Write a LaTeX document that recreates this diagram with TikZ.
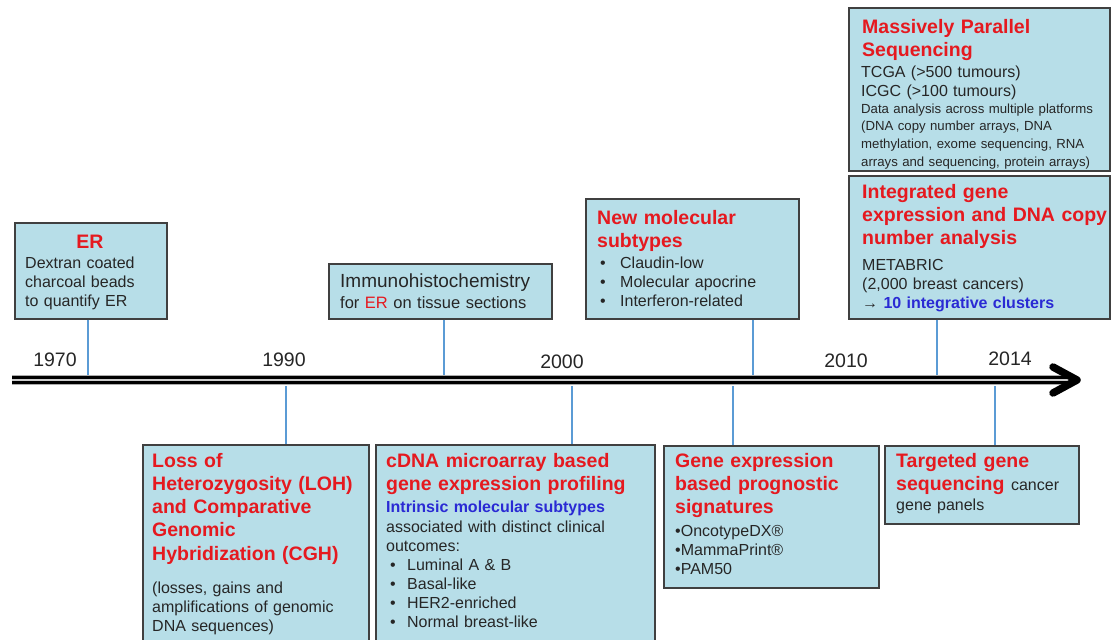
\documentclass[tikz,border=0pt]{standalone}
\usepackage{fontspec}
\setmainfont{Liberation Sans}
\definecolor{boxfill}{HTML}{B7DEE8}
\definecolor{boxline}{HTML}{404040}
\definecolor{tred}{HTML}{E5191F}
\definecolor{tblue}{HTML}{2A2AD4}
\definecolor{tdark}{HTML}{262626}
\definecolor{connblue}{HTML}{5B9BD5}
\newcommand{\ttlf}{\fontsize{19.5}{23.3}\selectfont\bfseries\color{tred}}
\newcommand{\bdyf}{\fontsize{16}{19.3}\selectfont\mdseries\color{tdark}}
\newcommand{\smlf}{\fontsize{13.2}{17.7}\selectfont\mdseries\color{tdark}}
\newcommand{\yrf}{\fontsize{19.5}{23}\selectfont\color{tdark}}
\newcommand{\bl}[1]{\makebox[#1][l]{•}}
\begin{document}
\begin{tikzpicture}[x=1pt,y=-1pt,
  box/.style={draw=boxline, fill=boxfill, line width=1.6pt, rectangle, inner sep=0pt, anchor=north west},
  conn/.style={draw=connblue, line width=1.4pt},
  txt/.style={anchor=base west, align=left, inner sep=0pt, text width=250pt},
  ttl/.style={txt, font=\ttlf},
  bdy/.style={txt, font=\bdyf},
  sml/.style={txt, font=\smlf},
  yr/.style={anchor=base, inner sep=0pt, font=\yrf}]
\fill[white] (0,0) rectangle (1114,640);
\clip (0,0) rectangle (1114,640);

% ---------- boxes ----------
\node[box, minimum width=152, minimum height=96] (er) at (14,222) {};
\node[box, minimum width=223, minimum height=55] (ihc) at (328,263) {};
\node[box, minimum width=213, minimum height=120] (nms) at (585,198) {};
\node[box, minimum width=261, minimum height=163] (mps) at (848,7) {};
\node[box, minimum width=261, minimum height=143] (igc) at (848,175) {};
\node[box, minimum width=226, minimum height=230] (loh) at (142,444) {};
\node[box, minimum width=279, minimum height=230] (cdna) at (375,444) {};
\node[box, minimum width=215, minimum height=142] (gep) at (663,445) {};
\node[box, minimum width=194, minimum height=78] (tgs) at (884,445) {};

% ---------- timeline ----------
\coordinate (axL) at (12,380);
\coordinate (axR) at (1070,380);
\coordinate (tip) at (1077,380);
\draw[line width=10pt, gray!65] (axL) -- (axR);
\draw[line width=8pt, black] (axL) -- (axR);
\draw[line width=1.8pt, gray!40] (axL) -- (axR);
\draw[line width=7.5pt, line cap=round, line join=round]
  ([shift={(-24,-13)}]tip) -- (tip) -- ([shift={(-24,13)}]tip);

\node[yr] (y1970) at (55,366) {1970};
\node[yr] (y1990) at (284,366) {1990};
\node[yr] (y2000) at (562,368) {2000};
\node[yr] (y2010) at (846,367) {2010};
\node[yr] (y2014) at (1010,365) {2014};

% ---------- connectors ----------
\coordinate (ta) at (88,375);
\coordinate (tb) at (444,375);
\coordinate (tc) at (753,375);
\coordinate (td) at (937,375);
\coordinate (ba) at (286,386);
\coordinate (bb) at (572,386);
\coordinate (bc) at (733,386);
\coordinate (bd) at (995,386);
\draw[conn] (er.south -| ta) -- (ta);
\draw[conn] (ihc.south -| tb) -- (tb);
\draw[conn] (nms.south -| tc) -- (tc);
\draw[conn] (igc.south -| td) -- (td);
\draw[conn] (ba) -- (loh.north -| ba);
\draw[conn] (bb) -- (cdna.north -| bb);
\draw[conn] (bc) -- (gep.north -| bc);
\draw[conn] (bd) -- (tgs.north -| bd);

% ---------- texts ----------
% ER
\node[anchor=base, inner sep=0pt, font=\ttlf] (ert) at (90,248) {ER};
\node[bdy] (erb) at (25,268) {Dextran coated\\charcoal beads\\to quantify ER};
% IHC
\node[txt, font=\fontsize{19}{22}\selectfont\color{tdark}] (ihct) at (340,287) {Immunohistochemistry};
\node[txt, font=\fontsize{16.5}{20}\selectfont\color{tdark}] (ihcb) at (340,308) {for {\color{tred}ER} on tissue sections};
% New molecular subtypes
\node[ttl] (nmst) at (597,224) {New molecular\\subtypes};
\node[bdy] (nmsb) at (600,268) {\bl{20pt}Claudin-low\\\bl{20pt}Molecular apocrine\\\bl{20pt}Interferon-related};
% MPS
\node[ttl] (mpst) at (862,33) {Massively Parallel\\Sequencing};
\node[bdy] (mpsb) at (861,77) {TCGA (>500 tumours)\\ICGC (>100 tumours)};
\node[sml] (mpss) at (861,113) {Data analysis across multiple platforms\\(DNA copy number arrays, DNA\\methylation, exome sequencing, RNA\\arrays and sequencing, protein arrays)};
% Integrated
\node[ttl] (igct) at (862,198) {Integrated gene\\expression and DNA copy\\number analysis};
\node[bdy] (igcb) at (862,270) {METABRIC\\(2,000 breast cancers)\\→ {\bfseries\color{tblue}10 integrative clusters}};
% LOH
\node[ttl] (loht) at (152,467) {Loss of\\Heterozygosity (LOH)\\and Comparative\\Genomic\\Hybridization (CGH)};
\node[bdy] (lohb) at (152,593) {(losses, gains and\\amplifications of genomic\\DNA sequences)};
% cDNA
\node[ttl] (cdnat) at (386,467) {cDNA microarray based\\gene expression profiling};
\node[txt, font=\fontsize{16}{19.3}\selectfont\bfseries\color{tblue}] (cdnai) at (386,512) {Intrinsic molecular subtypes};
\node[bdy] (cdnab) at (386,532) {associated with distinct clinical\\outcomes:};
\node[bdy] (cdnal) at (390,570) {\bl{17pt}Luminal A \& B\\\bl{17pt}Basal-like\\\bl{17pt}HER2-enriched\\\bl{17pt}Normal breast-like};
% Gene expression signatures
\node[ttl] (gept) at (675,467) {Gene expression\\based prognostic\\signatures};
\node[bdy] (gepb) at (675,536) {•OncotypeDX®\\•MammaPrint®\\•PAM50};
% Targeted
\node[ttl] (tgst) at (896,467) {Targeted gene\\sequencing {\bdyf cancer}};
\node[bdy] (tgsb) at (896,510) {gene panels};
\end{tikzpicture}
\end{document}
